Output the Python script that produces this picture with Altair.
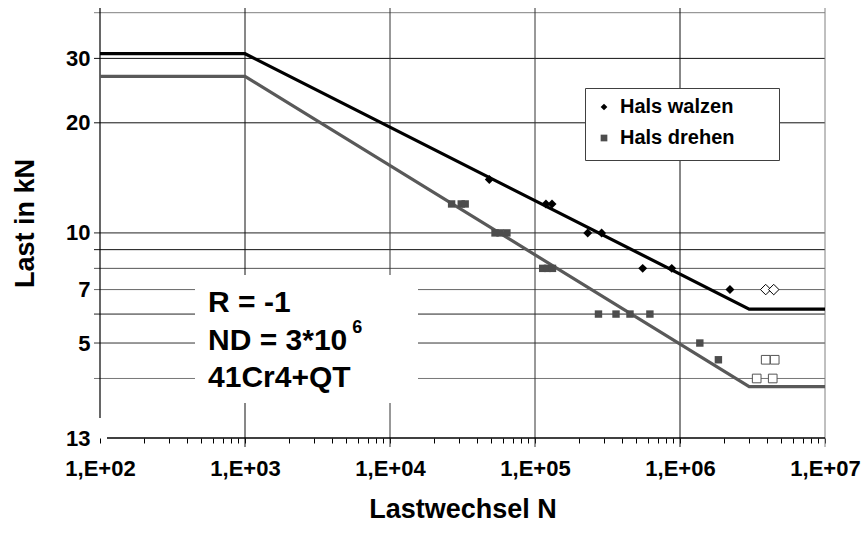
import altair as alt
import pandas as pd

# ---------------- data ----------------
series = ["Hals walzen", "Hals drehen"]
series_colors = ["#000000", "#4d4d4d"]
series_shapes = ["diamond", "square"]

walzen_N = [4.84e4, 1.19e5, 1.31e5, 2.31e5, 2.88e5, 5.53e5, 8.77e5, 2.21e6]
walzen_L = [14.0, 12.0, 12.0, 10.0, 10.0, 8.0, 8.0, 7.0]
walzen_runout_N = [3.9e6, 4.43e6]
walzen_runout_L = [7.0, 7.0]

drehen_N = [2.66e4, 3.1e4, 3.3e4, 5.3e4, 5.74e4, 6.4e4, 1.13e5, 1.22e5, 1.32e5,
            2.74e5, 3.62e5, 4.52e5, 6.2e5, 1.37e6, 1.84e6]
drehen_L = [12, 12, 12, 10, 10, 10, 8, 8, 8, 6, 6, 6, 6, 5.0, 4.5]
drehen_runout_N = [3.9e6, 4.5e6, 3.38e6, 4.36e6]
drehen_runout_L = [4.5, 4.5, 4.0, 4.0]

curve_N = [1e2, 1e3, 3e6, 1e7]
walzen_curve_L = [30.9, 30.9, 6.19, 6.19]
drehen_curve_L = [26.8, 26.8, 3.80, 3.80]

x_grid = [1e3, 1e4, 1e5, 1e6, 1e7]
x_grid_colors = ["#111111", "#333333", "#333333", "#111111", "#808080"]
y_grid = [40, 30, 20, 10, 9, 8, 7, 6, 5, 4]
y_grid_colors = ["#808080", "#111111", "#111111", "#222222", "#111111",
                 "#555555", "#666666", "#222222", "#333333", "#777777"]
y_label_values = [30, 20, 10, 7, 5]
y_bottom = 2.75
y_bottom_label = "13"

note_lines = ["R = -1", "ND = 3*10", "41Cr4+QT"]
note_line_L = [6.06, 4.79, 3.80]
note_N = 556
note_sup = "6"
note_sup_N = 5500
note_sup_L = 5.33
note_box_N = [452, 1.56e4]
note_box_L = [3.43, 7.67]

FONT = "Liberation Sans"

# ---------------- scales ----------------
xscale = alt.Scale(type="log", domain=[1e2, 1e7], nice=False)
yscale = alt.Scale(type="log", domain=[y_bottom, 41.2], nice=False)

minor_ticks = [m * 10 ** e for e in range(2, 7) for m in range(1, 10)] + [1e7]

label_expr_x = (
    "abs(log(datum.value)/LN10 - round(log(datum.value)/LN10)) < 0.001 ? "
    "'1,E+' + (round(log(datum.value)/LN10) < 10 ? '0' : '') + round(log(datum.value)/LN10) : ''"
)

x_axis = alt.Axis(values=minor_ticks, tickSize=5, tickColor="black", domain=False, grid=False,
                  labelExpr=label_expr_x, labelFlush=False, labelOverlap=False,
                  labelFont=FONT, labelFontSize=22, labelFontWeight="bold", labelColor="black",
                  labelPadding=15, title="Lastwechsel N", titleFont=FONT, titleFontSize=27,
                  titleFontWeight="bold", titleColor="black", titlePadding=17)
y_axis = alt.Axis(values=y_label_values + [y_bottom], ticks=False, domain=False, grid=False,
                  labelExpr=f"datum.value < 3 ? '{y_bottom_label}' : format(datum.value, 'd')",
                  labelFont=FONT, labelFontSize=22, labelFontWeight="bold", labelColor="black",
                  labelPadding=10, title="Last in kN", titleFont=FONT, titleFontSize=27,
                  titleFontWeight="bold", titleColor="black", titlePadding=26)

X = lambda f: alt.X(f, scale=xscale, axis=x_axis)
Y = lambda f: alt.Y(f, scale=yscale, axis=y_axis)

# ---------------- layers ----------------
hgrid = alt.Chart(pd.DataFrame({"L": y_grid, "c": y_grid_colors})).mark_rule(strokeWidth=1).encode(
    y=Y("L:Q"), x=alt.value(-6), x2=alt.value(725),
    color=alt.Color("c:N", scale=None),
)

vgrid = alt.Chart(pd.DataFrame({"N": x_grid, "c": x_grid_colors})).mark_rule(strokeWidth=1).encode(
    x=X("N:Q"), y=alt.value(0), y2=alt.value(439),
    color=alt.Color("c:N", scale=None),
)

one = pd.DataFrame({"a": [0]})
y_axis_line = alt.Chart(one).mark_rule(color="black", strokeWidth=1.2).encode(
    x=alt.value(0), y=alt.value(0), y2=alt.value(410))
x_axis_line = alt.Chart(one).mark_rule(color="black", strokeWidth=1.5).encode(
    x=alt.value(7), x2=alt.value(725), y=alt.value(430))

note_box = alt.Chart(pd.DataFrame({"N": [note_box_N[0]], "N2": [note_box_N[1]],
                                   "L": [note_box_L[0]], "L2": [note_box_L[1]]})).mark_rect(
    fill="white").encode(x=X("N:Q"), x2="N2:Q", y=Y("L:Q"), y2="L2:Q")

note_text = alt.Chart(pd.DataFrame({"t": note_lines, "L": note_line_L, "N": [note_N] * 3})).mark_text(
    align="left", baseline="alphabetic", font=FONT, fontSize=30, fontWeight="bold", color="black").encode(
    x=X("N:Q"), y=Y("L:Q"), text="t:N")

note_super = alt.Chart(pd.DataFrame({"t": [note_sup], "L": [note_sup_L], "N": [note_sup_N]})).mark_text(
    align="left", baseline="alphabetic", font=FONT, fontSize=18, fontWeight="bold", color="black").encode(
    x=X("N:Q"), y=Y("L:Q"), text="t:N")

curve_w = alt.Chart(pd.DataFrame({"N": curve_N, "L": walzen_curve_L})).mark_line(
    strokeWidth=3.2, color="#000000").encode(x=X("N:Q"), y=Y("L:Q"))
curve_d = alt.Chart(pd.DataFrame({"N": curve_N, "L": drehen_curve_L})).mark_line(
    strokeWidth=3.2, color="#595959").encode(x=X("N:Q"), y=Y("L:Q"))

pts = pd.DataFrame({
    "N": walzen_N + drehen_N,
    "L": walzen_L + drehen_L,
    "s": [series[0]] * len(walzen_N) + [series[1]] * len(drehen_N),
    "sz": [80] * len(walzen_N) + [55] * len(drehen_N),
})
# an invisible (white, tiny) bottom title only widens the legend box to the reference's width
legend = alt.Legend(orient="none", legendX=485, legendY=80, title="_" * 158,
                    titleOrient="bottom", titleFontSize=2, titleColor="white", titleLimit=2000,
                    titlePadding=1,
                    fillColor="white", strokeColor="#404040", padding=9, rowPadding=11,
                    labelFont=FONT, labelFontSize=20, labelFontWeight="bold", labelColor="black",
                    labelLimit=400, labelOffset=6, symbolSize=45, symbolStrokeWidth=0)
point_layer = alt.Chart(pts).mark_point(filled=True, opacity=1).encode(
    x=X("N:Q"), y=Y("L:Q"),
    color=alt.Color("s:N", scale=alt.Scale(domain=series, range=series_colors), legend=legend),
    shape=alt.Shape("s:N", scale=alt.Scale(domain=series, range=series_shapes), legend=legend),
    size=alt.Size("sz:Q", scale=None, legend=None),
)

runout_w = alt.Chart(pd.DataFrame({"N": walzen_runout_N, "L": walzen_runout_L})).mark_point(
    shape="diamond", filled=True, fill="white", stroke="black", strokeWidth=1, size=110, opacity=1).encode(
    x=X("N:Q"), y=Y("L:Q"))
runout_d = alt.Chart(pd.DataFrame({"N": drehen_runout_N, "L": drehen_runout_L})).mark_point(
    shape="square", filled=True, fill="white", stroke="#555555", strokeWidth=1, size=75, opacity=1).encode(
    x=X("N:Q"), y=Y("L:Q"))

chart = alt.layer(
    hgrid, vgrid, y_axis_line, x_axis_line, note_box, note_text, note_super,
    curve_w, curve_d, point_layer, runout_w, runout_d,
).properties(
    width=725, height=430,
    padding={"left": 100, "top": 8, "right": 43, "bottom": 97},
    autosize=alt.AutoSizeParams(type="none"),
    background="white",
).configure_view(stroke=None)

chart.save("out.html", embed_options={"renderer": "svg", "actions": False})
